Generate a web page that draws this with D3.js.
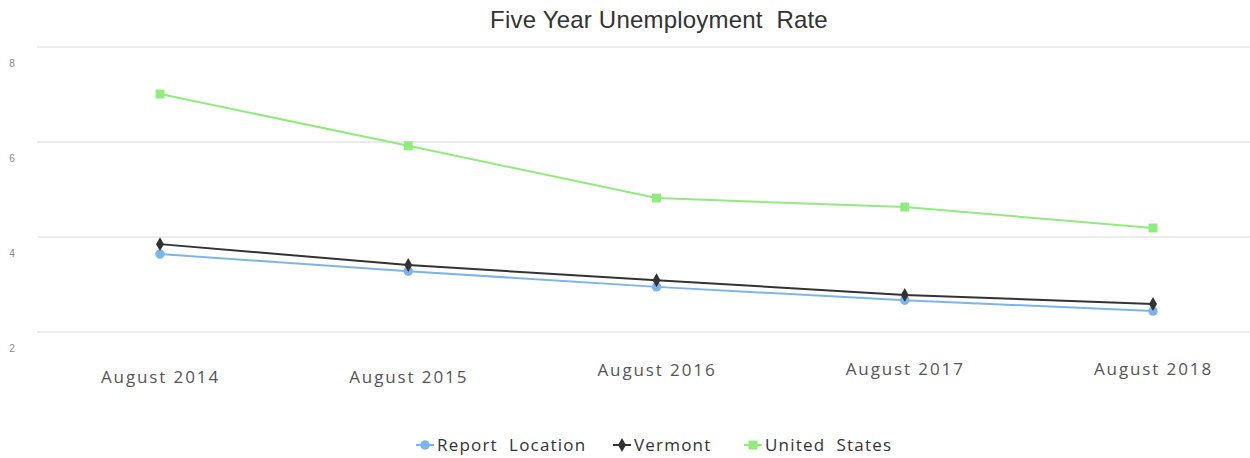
<!DOCTYPE html>
<html>
<head>
<meta charset="utf-8">
<script src="https://cdn.jsdelivr.net/npm/d3@7"></script>
<style>
  body { margin: 0; background: #fff; }
  svg { display: block; }
</style>
</head>
<body>
<svg id="chart" width="1250" height="458"></svg>
<script>
// Chart data.
var categories = ['August 2014', 'August 2015', 'August 2016', 'August 2017', 'August 2018'];
var reportLocation = [3.64, 3.28, 2.95, 2.67, 2.44];
var vermont = [3.85, 3.41, 3.09, 2.78, 2.59];
var unitedStates = [7.01, 5.92, 4.82, 4.63, 4.19];
var yTicks = [2, 4, 6, 8];
var seriesNames = ['Report  Location', 'Vermont', 'United  States'];

var series = [
  { name: seriesNames[0], values: reportLocation, color: '#7cb5ec', symbol: d3.symbolCircle, size: 70 },
  { name: seriesNames[1], values: vermont, color: '#333333', symbol: d3.symbolDiamond, size: 55 },
  { name: seriesNames[2], values: unitedStates, color: '#90ed7d', symbol: d3.symbolSquare, size: 80 }
];

var svg = d3.select('#chart');

// Scales.
var x = d3.scalePoint().domain(categories).range([160, 1153]);
var y = d3.scaleLinear().domain([2, 8]).range([332, 47]);

// Grid lines.
svg.append('g')
  .attr('class', 'grid')
  .selectAll('line')
  .data(yTicks)
  .join('line')
  .attr('x1', 37)
  .attr('x2', 1250)
  .attr('y1', d => y(d))
  .attr('y2', d => y(d))
  .style('stroke', '#ececec')
  .style('stroke-width', 2);

// Y tick labels (sit below their grid line).
svg.append('g')
  .selectAll('text')
  .data(yTicks)
  .join('text')
  .attr('x', 12)
  .attr('y', d => y(d) + 20)
  .style('font-family', 'Liberation Sans, Arial, sans-serif')
  .style('font-size', '10px')
  .style('fill', '#888')
  .style('text-anchor', 'middle')
  .text(d => d);

// X axis labels (slightly staggered like the original).
var labelShift = [6, 6, -1, -2, -2];
var xAxis = d3.axisBottom(x).tickSize(0).tickPadding(0);
var gx = svg.append('g')
  .attr('transform', 'translate(0, 377)')
  .call(xAxis);
gx.select('.domain').remove();
gx.selectAll('text')
  .attr('dy', (d, i) => labelShift[i] + 'px')
  .style('font-family', 'Open Sans, sans-serif')
  .style('font-size', '17px')
  .style('letter-spacing', '1.9px')
  .style('fill', '#555');

// Lines and markers.
var line = d3.line()
  .x((d, i) => x(categories[i]))
  .y(d => y(d));

series.forEach(function(s) {
  var g = svg.append('g').attr('class', 'series');
  g.append('path')
    .datum(s.values)
    .attr('d', line)
    .style('fill', 'none')
    .style('stroke', s.color)
    .style('stroke-width', 2);
  g.selectAll('path.marker')
    .data(s.values)
    .join('path')
    .attr('class', 'marker')
    .attr('transform', (d, i) => 'translate(' + x(categories[i]) + ',' + y(d) + ')')
    .attr('d', d3.symbol().type(s.symbol).size(s.size))
    .style('fill', s.color);
});

// Title.
svg.append('text')
  .attr('x', 659)
  .attr('y', 28)
  .style('font-family', 'Liberation Sans, Arial, sans-serif')
  .style('font-size', '24px')
  .style('letter-spacing', '0.2px')
  .style('fill', '#333')
  .style('text-anchor', 'middle')
  .style('white-space', 'pre')
  .text('Five Year Unemployment  Rate');

// Legend.
var legendX = [416, 613, 744];
var legend = svg.append('g').attr('class', 'legend');
series.forEach(function(s, i) {
  var g = legend.append('g').attr('transform', 'translate(' + legendX[i] + ', 445)');
  g.append('line')
    .attr('x1', 0).attr('x2', 18)
    .style('stroke', s.color)
    .style('stroke-width', 2);
  g.append('path')
    .attr('transform', 'translate(9,0)')
    .attr('d', d3.symbol().type(s.symbol).size(s.size))
    .style('fill', s.color);
  g.append('text')
    .attr('x', 21)
    .attr('y', 6)
    .style('font-family', 'Open Sans, sans-serif')
    .style('font-size', '17px')
    .style('letter-spacing', '1.2px')
    .style('fill', '#333')
    .style('white-space', 'pre')
    .text(s.name);
});
</script>
</body>
</html>
